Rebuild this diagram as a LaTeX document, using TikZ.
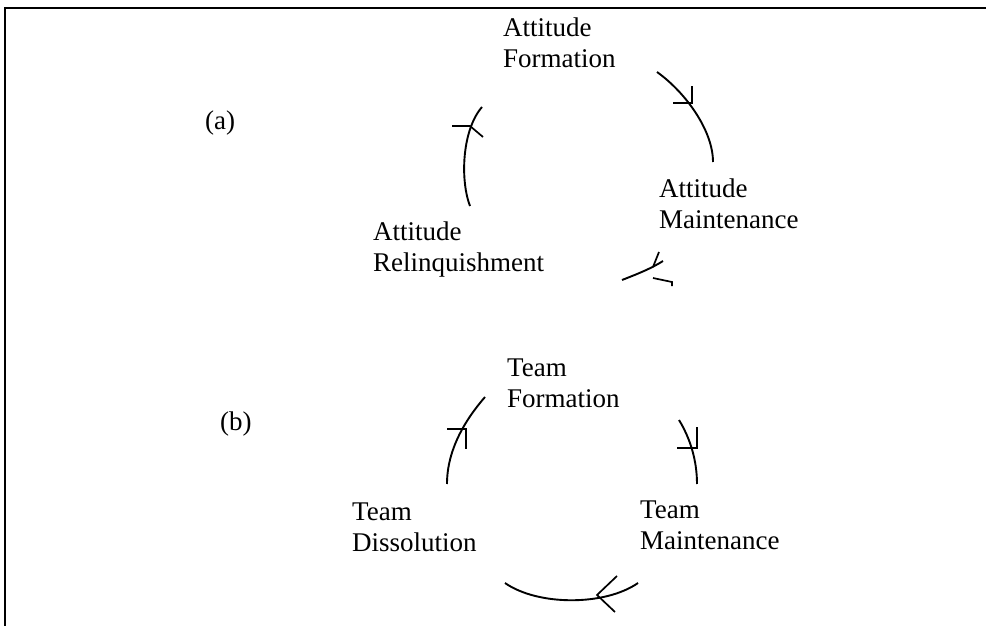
\documentclass[tikz,border=0pt]{standalone}
\usepackage{fontspec}
\setmainfont{Liberation Serif}
\newcommand\lbl[1]{\begin{tabular}[t]{@{}l@{}}#1\end{tabular}}
\begin{document}
\begin{tikzpicture}[x=1pt,y=-1pt,
  lab/.style={anchor=base west, inner sep=0pt, font=\fontsize{27}{31}\selectfont},
  cyc/.style={line width=1.9pt},
  tick/.style={line width=1.7pt},
  frame/.style={line width=2.6pt}]
\useasboundingbox (0,0) rectangle (986,626);
\draw[frame] (986,8) -- (5,8) -- (5,626);

% (a) attitude cycle
\node[lab] (pa) at (205,129) {(a)};
\node[lab] (af) at (503,37) {\lbl{Attitude\\Formation}};
\node[lab] (am) at (659,197) {\lbl{Attitude\\Maintenance}};
\node[lab] (ar) at (373,240) {\lbl{Attitude\\Relinquishment}};

\coordinate (a1s) at (657,72);  \coordinate (a1e) at (713,162);
\coordinate (a2s) at (470,206); \coordinate (a2e) at (482,107);
\coordinate (a3s) at (622,280); \coordinate (a3e) at (663,261);
\draw[cyc] (a1s) .. controls (685,92) and (713,130) .. (a1e);
\draw[tick] (673,103) -- (692,103) -- (692,86);
\draw[cyc] (a2s) .. controls (460,180) and (462,130) .. (a2e);
\draw[tick] (452,126) -- (470,126) -- (483,137);
\draw[cyc] (a3s) .. controls (640,273) and (652,268) .. (a3e);
\draw[tick] (653,267) -- (659,252);
\draw[tick] (653,278) -- (672,282) -- (672,286);

% (b) team cycle
\node[lab] (pb) at (220,430) {(b)};
\node[lab] (tf) at (507,376) {\lbl{Team\\Formation}};
\node[lab] (tm) at (640,518) {\lbl{Team\\Maintenance}};
\node[lab] (td) at (352,520) {\lbl{Team\\Dissolution}};

\coordinate (b1s) at (447,484); \coordinate (b1e) at (485,397);
\coordinate (b2s) at (679,420); \coordinate (b2e) at (697,484);
\coordinate (b3s) at (638,583); \coordinate (b3e) at (505,583);
\draw[cyc] (b1s) .. controls (447,450) and (465,420) .. (b1e);
\draw[tick] (447,429) -- (466,429) -- (466,449);
\draw[cyc] (b2s) .. controls (690,438) and (697,460) .. (b2e);
\draw[tick] (677,448) -- (697,448) -- (697,427);
\draw[cyc] (b3s) .. controls (605,606) and (538,606) .. (b3e);
\draw[tick] (617,576) -- (597,595) -- (615,612);
\end{tikzpicture}
\end{document}
